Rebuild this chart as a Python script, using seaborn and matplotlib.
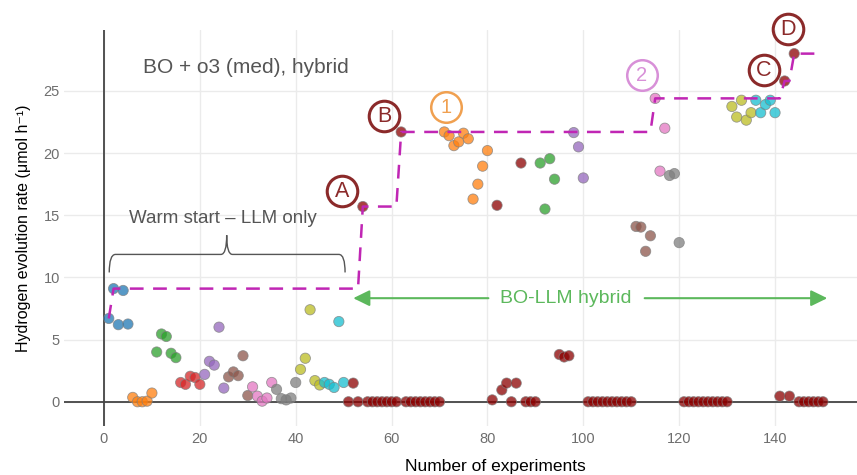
import numpy as np
import pandas as pd
import matplotlib
matplotlib.use("Agg")
import matplotlib.pyplot as plt
import seaborn as sns
from matplotlib.path import Path
from matplotlib.patches import PathPatch

# ---------------- data ----------------
experiments = list(range(1, 151))

h2_rate = [
    6.7, 9.1, 6.2, 8.95, 6.25,          # 1-5
    0.35, 0.0, 0.0, 0.05, 0.7,          # 6-10
    4.0, 5.45, 5.25, 3.9, 3.55,         # 11-15
    1.55, 1.4, 2.05, 1.95, 1.4,         # 16-20
    2.2, 3.25, 2.95, 6.0, 1.1,          # 21-25
    2.0, 2.4, 2.1, 3.7, 0.5,            # 26-30
    1.2, 0.45, 0.05, 0.3, 1.55,         # 31-35
    1.0, 0.25, 0.15, 0.3, 1.55,         # 36-40
    2.6, 3.5, 7.4, 1.7, 1.35,           # 41-45
    1.55, 1.4, 1.15, 6.45, 1.55,        # 46-50
    0.0, 1.5, 0.0, 15.7, 0.0,           # 51-55
    0.0, 0.0, 0.0, 0.0, 0.0,            # 56-60
    0.0, 21.7, 0.0, 0.0, 0.0,           # 61-65
    0.0, 0.0, 0.0, 0.0, 0.0,            # 66-70
    21.7, 21.4, 20.6, 20.9, 21.6,       # 71-75
    21.15, 16.3, 17.5, 18.95, 20.2,     # 76-80
    0.15, 15.8, 0.95, 1.5, 0.0,         # 81-85
    1.5, 19.2, 0.0, 0.0, 0.0,           # 86-90
    19.2, 15.5, 19.55, 17.9,            # 91-94
    3.8, 3.6, 3.7,                      # 95-97
    21.65, 20.5, 18.0,                  # 98-100
    0.0, 0.0, 0.0, 0.0, 0.0,            # 101-105
    0.0, 0.0, 0.0, 0.0, 0.0,            # 106-110
    14.1, 14.05, 12.1, 13.35,           # 111-114
    24.4, 18.55, 22.0,                  # 115-117
    18.2, 18.35, 12.8,                  # 118-120
    0.0, 0.0, 0.0, 0.0, 0.0,            # 121-125
    0.0, 0.0, 0.0, 0.0, 0.0,            # 126-130
    23.75, 22.9, 24.25, 22.65, 23.25,   # 131-135
    24.25, 23.25, 23.9, 24.25, 23.25,   # 136-140
    0.45, 25.8, 0.45, 28.0, 0.0,        # 141-145
    0.0, 0.0, 0.0, 0.0, 0.0,            # 146-150
]

batch = (["blue"] * 5 + ["orange"] * 5 + ["green"] * 5 + ["red"] * 5 +
         ["purple"] * 5 + ["brown"] * 5 + ["pink"] * 5 + ["gray"] * 5 +
         ["olive"] * 5 + ["cyan"] * 5 +
         ["BO"] * 20 + ["orange"] * 10 + ["BO"] * 10 + ["green"] * 4 +
         ["BO"] * 3 + ["purple"] * 3 + ["BO"] * 10 + ["brown"] * 4 +
         ["pink"] * 3 + ["gray"] * 3 + ["BO"] * 10 + ["olive"] * 5 +
         ["cyan"] * 5 + ["BO"] * 10)

x_ticks = [0, 20, 40, 60, 80, 100, 120, 140]
y_ticks = [0, 5, 10, 15, 20, 25]

palette = {
    "blue": "#1f77b4", "orange": "#ff7f0e", "green": "#2ca02c",
    "red": "#d62728", "purple": "#9467bd", "brown": "#8c564b",
    "pink": "#e377c2", "gray": "#7f7f7f", "olive": "#bcbd22",
    "cyan": "#17becf", "BO": "#8b0000",
}

df = pd.DataFrame({"exp": experiments, "rate": h2_rate, "batch": batch})
df["best"] = df["rate"].cummax()

# ---------------- figure ----------------
sns.set_theme(style="white")
plt.rcParams["font.family"] = ["Liberation Sans", "DejaVu Sans"]

fig = plt.figure(figsize=(8.57, 4.75), dpi=100)
ax = fig.add_axes([64 / 857, 1 - 426 / 475, 1 - 64 / 857, (426 - 30) / 475])

ax.set_xlim(-8.34, 157.1)
ax.set_ylim(-1.95, 29.9)

for s in ax.spines.values():
    s.set_visible(False)

ax.set_xticks(x_ticks)
ax.set_yticks(y_ticks)
ax.grid(True, color="#ebebeb", lw=1.0, zorder=0)
ax.set_axisbelow(True)
ax.axhline(0, color="#444444", lw=1.3, zorder=1)
ax.axvline(0, color="#444444", lw=1.3, zorder=1)

sns.scatterplot(data=df, x="exp", y="rate", hue="batch", palette=palette,
                s=55, alpha=0.75, edgecolor="#808080", linewidth=0.6,
                legend=False, ax=ax, zorder=3)

sns.lineplot(data=df, x="exp", y="best", color="#c026b4", lw=1.8,
             dashes=False, ax=ax, zorder=4)
ax.lines[-1].set_dashes((5.5, 3.8))

tick_font = ["Liberation Sans Narrow", "Liberation Sans", "DejaVu Sans"]
ax.tick_params(axis="both", length=0, labelsize=10.5, labelcolor="#6e6e6e")
ax.tick_params(axis="x", pad=4)
ax.tick_params(axis="y", pad=3)
for lab in ax.get_xticklabels() + ax.get_yticklabels():
    lab.set_family(tick_font)

ax.set_xlabel("Number of experiments", fontsize=12.5, family=tick_font,
              color="black", va="center")
ax.xaxis.set_label_coords((495 - 64) / 793, -(466 - 426) / 396)
ax.set_ylabel("Hydrogen evolution rate (\u03bcmol h\u207b\u00b9)", fontsize=11.5,
              color="black", labelpad=9)

# ---------------- annotations ----------------
ax.text(8.1, 26.9, "BO + o3 (med), hybrid", fontsize=15, color="#555555",
        ha="left", va="center")

ax.text(24.9, 14.7, "Warm start \u2013 LLM only", fontsize=13.5,
        color="#555555", ha="center", va="center")

# curly brace
verts = [(1.1, 10.4), (1.1, 11.85), (2.4, 11.85),
         (24.4, 11.85), (25.6, 11.85), (25.6, 13.4),
         (25.6, 11.85), (26.8, 11.85), (49.0, 11.85),
         (50.3, 11.85), (50.3, 10.4)]
codes = [Path.MOVETO, Path.CURVE3, Path.CURVE3,
         Path.LINETO, Path.CURVE3, Path.CURVE3,
         Path.CURVE3, Path.CURVE3, Path.LINETO,
         Path.CURVE3, Path.CURVE3]
ax.add_patch(PathPatch(Path(verts, codes), fill=False, ec="#555555", lw=1.0,
                       zorder=2))

green = "#5cb85c"
arrow_style = "-|>,head_length=0.45,head_width=0.22"
ax.annotate("", xy=(52.0, 8.33), xytext=(80.2, 8.33),
            arrowprops=dict(arrowstyle=arrow_style, color=green, lw=1.5,
                            mutation_scale=22, shrinkA=0, shrinkB=0))
ax.annotate("", xy=(150.9, 8.33), xytext=(112.8, 8.33),
            arrowprops=dict(arrowstyle=arrow_style, color=green, lw=1.5,
                            mutation_scale=22, shrinkA=0, shrinkB=0))
ax.text(96.3, 8.33, "BO-LLM hybrid", fontsize=14, color=green,
        ha="center", va="center")

# circled markers
circ = [
    (49.7, 16.95, "A", "#8b2a2a"),
    (58.4, 22.98, "B", "#8b2a2a"),
    (71.3, 23.7, "1", "#f0a050"),
    (112.2, 26.3, "2", "#d890d8"),
    (137.7, 26.7, "C", "#8b2a2a"),
    (142.8, 30.0, "D", "#8b2a2a"),
]
for cx, cy, label, col in circ:
    dark = label.isalpha()
    ax.plot([cx], [cy], marker="o", ms=22, mfc="none", mec=col,
            mew=2.2 if dark else 1.8, clip_on=False, zorder=5)
    ax.text(cx, cy - 0.05, label, fontsize=15.5 if dark else 14.5, color=col,
            ha="center", va="center", zorder=5, clip_on=False)

fig.savefig("out.png", dpi=100)
